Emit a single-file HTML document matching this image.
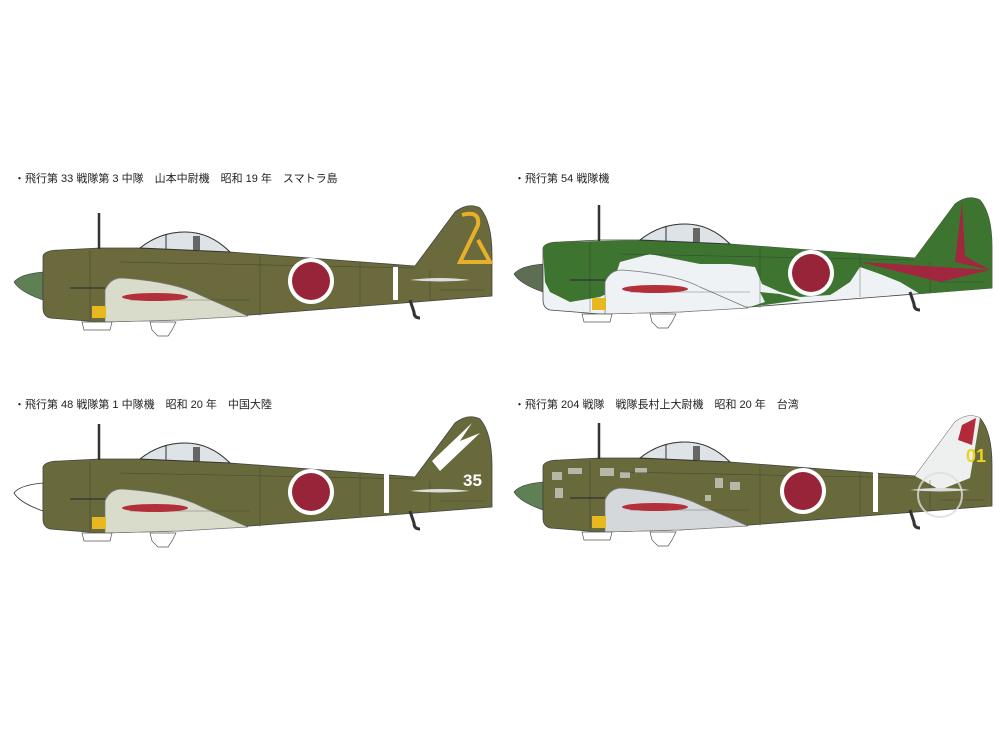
<!DOCTYPE html>
<html><head><meta charset="utf-8"><style>
html,body{margin:0;padding:0;background:#fff;width:1000px;height:750px;overflow:hidden}
</style></head><body>
<svg width="1000" height="750" viewBox="0 0 1000 750" xmlns="http://www.w3.org/2000/svg" font-family="'Liberation Sans','Noto Sans CJK JP',sans-serif">
<defs>
<path id="body" d="M43,256 Q45,250 60,250 L100,248 L140,248 Q160,232 185,232 Q210,232 230,252 L415,266 L455,212 Q468,202 480,208 Q492,222 492,255 L492,296 L250,315 L180,320 L100,322 L50,318 Q43,316 43,308 Z"/>
<path id="wing" d="M105,322 L105,290 Q110,278 122,278 Q175,282 200,295 L248,316 L180,320 Z"/>
<g id="details" fill="none" stroke="#333" stroke-width="0.6" opacity="0.6">
<path d="M90,250 L90,320 M120,262 L415,268 M130,300 L250,300 M260,256 L260,316 M360,262 L360,305 M430,270 L430,300 M440,290 L485,290"/>
</g>
<g id="extras">
<line x1="99" y1="213" x2="99" y2="249" stroke="#333" stroke-width="2.5"/>
<path d="M140,248 Q160,232 185,232 Q210,232 230,252 Z" fill="#dde3e6" stroke="#333" stroke-width="1"/>
<line x1="166" y1="234" x2="166" y2="249" stroke="#333" stroke-width="1"/>
<rect x="193" y="236" width="7" height="14" fill="#666"/>
<rect x="92" y="306" width="14" height="12" fill="#e8b820"/>
<path d="M82,322 L112,322 L110,330 L84,330 Z" fill="#fff" stroke="#555" stroke-width="0.7"/>
<path d="M150,322 L176,322 L172,330 L168,336 L158,336 L152,330 Z" fill="#fff" stroke="#555" stroke-width="0.7"/>
<path d="M410,300 L414,312 Q414,318 420,318" fill="none" stroke="#333" stroke-width="3"/>
<ellipse cx="155" cy="297" rx="33" ry="4" fill="#b3303a"/>
<line x1="70" y1="288" x2="105" y2="288" stroke="#333" stroke-width="1.2"/>
<path d="M410,280 Q440,276 470,280 Q440,283 410,280Z" fill="#ddd"/>
</g>
</defs>

<g font-size="11" fill="#222">
<text x="14" y="182">・飛行第 33 戦隊第 3 中隊　山本中尉機　昭和 19 年　スマトラ島</text>
<text x="514" y="182">・飛行第 54 戦隊機</text>
<text x="14" y="408">・飛行第 48 戦隊第 1 中隊機　昭和 20 年　中国大陸</text>
<text x="514" y="408">・飛行第 204 戦隊　戦隊長村上大尉機　昭和 20 年　台湾</text>
</g>

<!-- Plane 1 -->
<g>
<path d="M43,272 Q20,274 14,282 Q20,292 43,300 Z" fill="#5f7f55" stroke="#333" stroke-width="0.6"/>
<use href="#body" fill="#6b6a3c" stroke="#444" stroke-width="0.8"/>
<use href="#wing" fill="#d9dccb" stroke="#777" stroke-width="0.7"/>
<use href="#details"/>
<use href="#extras"/>
<circle cx="311" cy="281" r="23" fill="#fff"/><circle cx="311" cy="281" r="19" fill="#98243a"/>
<rect x="393" y="267" width="5" height="33" fill="#fff"/>
<path d="M462,215 Q480,210 478,225 L460,262 L490,262 L478,240" fill="none" stroke="#e7b02a" stroke-width="4"/>
</g>

<!-- Plane 2 -->
<g transform="translate(500,-8)">
<path d="M43,272 Q20,274 14,282 Q20,292 43,300 Z" fill="#5d6e55" stroke="#333" stroke-width="0.6"/>
<use href="#body" fill="#eef2f4" stroke="#444" stroke-width="0.8"/>
<path d="M43,256 Q45,250 60,250 L140,248 Q160,232 185,232 Q210,232 230,252 L415,266 L455,212 Q468,202 480,208 Q492,222 492,255 L492,296 L420,302 L400,290 L380,282 L360,275 L350,290 L335,300 L330,303 L300,305 L280,300 L262,292 L255,275 L230,272 L200,272 L150,262 L120,270 L110,300 L100,305 L70,310 L50,300 L45,290 Z" fill="#3d7530"/>
<path d="M265,310 L260,300 L280,302 L300,308 L250,315Z" fill="#3d7530"/>
<use href="#wing" fill="#eef2f4" stroke="#777" stroke-width="0.7"/>
<use href="#details"/>
<use href="#extras"/>
<circle cx="311" cy="281" r="23" fill="#fff"/><circle cx="311" cy="281" r="19" fill="#98243a"/>
<path d="M462,210 L455,270 L490,278 L465,264 Z" fill="#a0273f"/>
<path d="M360,270 L490,278 L440,290 Z" fill="#a0273f"/>
</g>

<!-- Plane 3 -->
<g transform="translate(0,211)">
<path d="M43,272 Q20,274 14,282 Q20,292 43,300 Z" fill="#fff" stroke="#333" stroke-width="0.8"/>
<use href="#body" fill="#686a3c" stroke="#444" stroke-width="0.8"/>
<use href="#wing" fill="#d9dccb" stroke="#777" stroke-width="0.7"/>
<use href="#details"/>
<use href="#extras"/>
<circle cx="311" cy="281" r="23" fill="#fff"/><circle cx="311" cy="281" r="19" fill="#98243a"/>
<rect x="384" y="262" width="5" height="40" fill="#fff"/>
<path d="M432,250 L472,212 L460,230 L480,222 L440,260Z" fill="#fff"/>
<text x="463" y="275" font-size="17" font-weight="bold" fill="#fff">35</text>
</g>

<!-- Plane 4 -->
<g transform="translate(500,210)">
<path d="M43,272 Q20,274 14,282 Q20,292 43,300 Z" fill="#5f7f55" stroke="#333" stroke-width="0.6"/>
<use href="#body" fill="#686a3c" stroke="#444" stroke-width="0.8"/>
<g fill="#c9ccc4" opacity="0.8">
<rect x="52" y="262" width="10" height="8"/><rect x="68" y="258" width="14" height="6"/><rect x="55" y="278" width="8" height="10"/>
<rect x="100" y="258" width="14" height="8"/><rect x="120" y="262" width="10" height="6"/><rect x="135" y="258" width="12" height="5"/>
<rect x="215" y="268" width="8" height="10"/><rect x="230" y="272" width="10" height="8"/><rect x="205" y="285" width="6" height="6"/>
</g>
<path d="M415,266 L455,212 Q468,202 480,208 L470,268 L440,280Z" fill="#eef0f0"/>
<use href="#wing" fill="#d4d8da" stroke="#777" stroke-width="0.7"/>
<use href="#details"/>
<use href="#extras"/>
<circle cx="303" cy="281" r="23" fill="#fff"/><circle cx="303" cy="281" r="19" fill="#98243a"/>
<rect x="373" y="262" width="5" height="40" fill="#fff"/>
<circle cx="440" cy="285" r="22" fill="none" stroke="#ddd" stroke-width="2" opacity="0.8"/>
<path d="M462,215 L476,208 L472,235 L458,230Z" fill="#b22a3a"/>
<text x="466" y="252" font-size="18" font-weight="bold" fill="#f0d020">01</text>
</g>
</svg>
</body></html>
